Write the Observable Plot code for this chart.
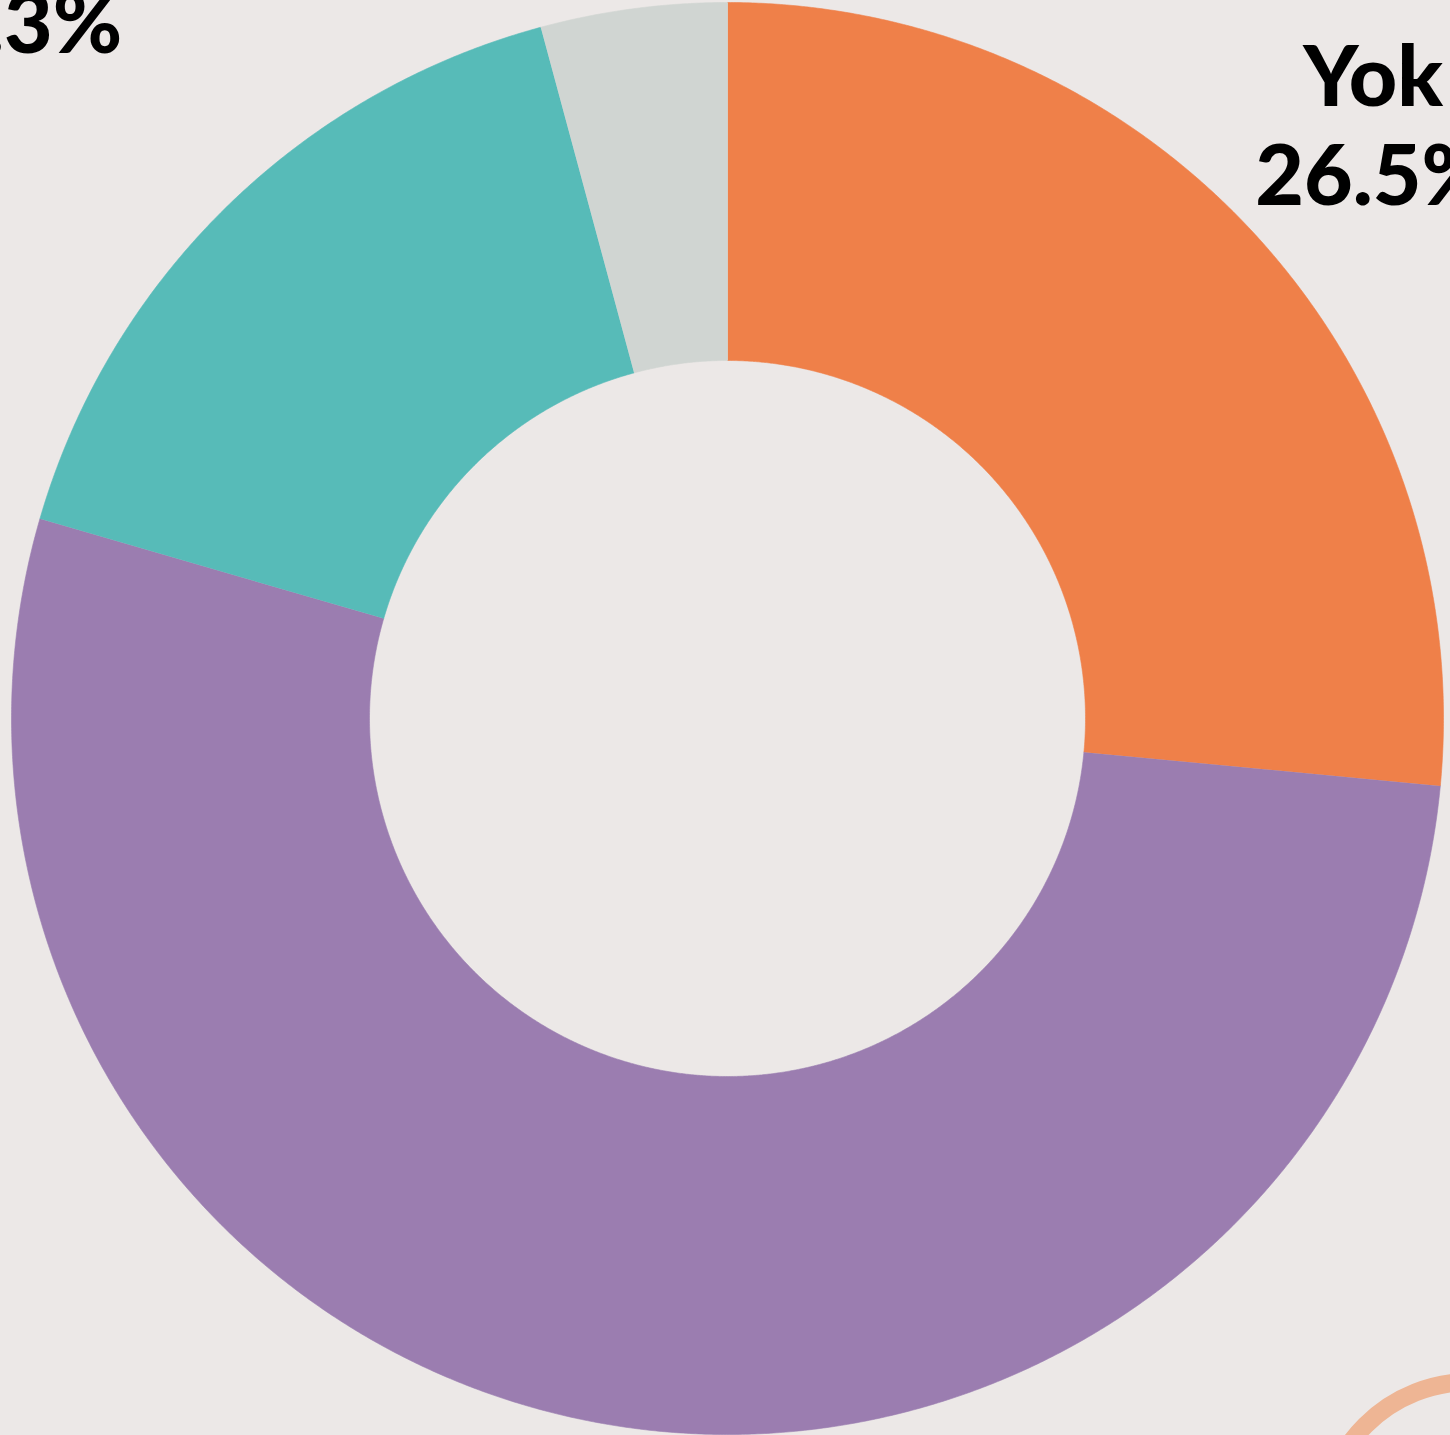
<!DOCTYPE html>
<html>
<head>
<meta charset="utf-8">
<script src="https://cdn.jsdelivr.net/npm/d3@7"></script>
<script src="https://cdn.jsdelivr.net/npm/@observablehq/plot@0.6"></script>
<style>
  html, body { margin: 0; padding: 0; background: #ECE8E7; overflow: hidden; }
  #wrap { position: relative; width: 1450px; height: 1435px; }
  #ring { position: absolute; left: 1313px; top: 1373px; width: 314px; height: 314px;
          box-sizing: border-box; border: 18px solid #EEB594; border-radius: 50%; }
  svg { display: block; }
</style>
</head>
<body>
<div id="wrap"></div>
<script>
// ---- data ----
const categories = ["Yok", "Var", "Kısmen", "Bilmiyorum"];
const values = [26.5, 53.0, 16.3, 4.2];
const colors = ["#EF8049", "#9B7DB0", "#57BBB8", "#D0D5D2"];

// ---- layout (not data) ----
const W = 1450, H = 1435;
const cx = 727, cy = 718, R = 716;         // pixel centre / outer radius
const innerRatio = 0.5;
// only the labels that fall (partly) inside the visible frame
const labelRadius = {"Yok": 1.223, "Kısmen": 1.45};
const labelDx = {"Yok": -2, "Kısmen": 4};

const rows = categories.map((c, i) => ({category: c, value: values[i]}));
const arcs = d3.pie().sort(null).value(d => d.value)(rows);

// polygon points for each slice in unit-radius data space
const pts = [];
for (const a of arcs) {
  const n = Math.max(4, Math.ceil((a.endAngle - a.startAngle) / (Math.PI / 720)));
  const key = a.data.category;
  for (let i = 0; i <= n; i++) {
    const t = a.startAngle + (a.endAngle - a.startAngle) * i / n;
    pts.push({key, x: Math.sin(t), y: Math.cos(t)});
  }
  for (let i = n; i >= 0; i--) {
    const t = a.startAngle + (a.endAngle - a.startAngle) * i / n;
    pts.push({key, x: innerRatio * Math.sin(t), y: innerRatio * Math.cos(t)});
  }
}

const labels = arcs
  .filter(a => labelRadius[a.data.category] !== undefined)
  .map(a => {
    const m = (a.startAngle + a.endAngle) / 2;
    const r = labelRadius[a.data.category];
    return {
      name: a.data.category,
      pct: `${a.data.value.toFixed(1)}%`,
      x: r * Math.sin(m),
      y: r * Math.cos(m),
      dx: labelDx[a.data.category]
    };
  });

const textStyle = {fontSize: 84, fontWeight: 900, textAnchor: "middle", lineAnchor: "bottom", fill: "#000"};

const chart = Plot.plot({
  width: W,
  height: H,
  margin: 0,
  style: {background: "#ECE8E7", fontFamily: "Lato, 'Noto Sans', sans-serif", overflow: "hidden"},
  x: {domain: [-cx / R, (W - cx) / R], axis: null},
  y: {domain: [-(H - cy) / R, cy / R], axis: null},
  color: {domain: categories, range: colors},
  marks: [
    Plot.line(pts, {x: "x", y: "y", z: "key", fill: "key", stroke: "key", strokeWidth: 0.6, curve: "linear"}),
    ...labels.map(l => Plot.text([l], {x: "x", y: "y", text: "name", dx: l.dx, dy: -23, ...textStyle})),
    ...labels.map(l => Plot.text([l], {x: "x", y: "y", text: "pct", dx: l.dx, dy: 75.5, ...textStyle}))
  ]
});

const wrap = document.getElementById("wrap");
wrap.appendChild(chart);
const ring = document.createElement("div");
ring.id = "ring";
wrap.appendChild(ring);
</script>
</body>
</html>
